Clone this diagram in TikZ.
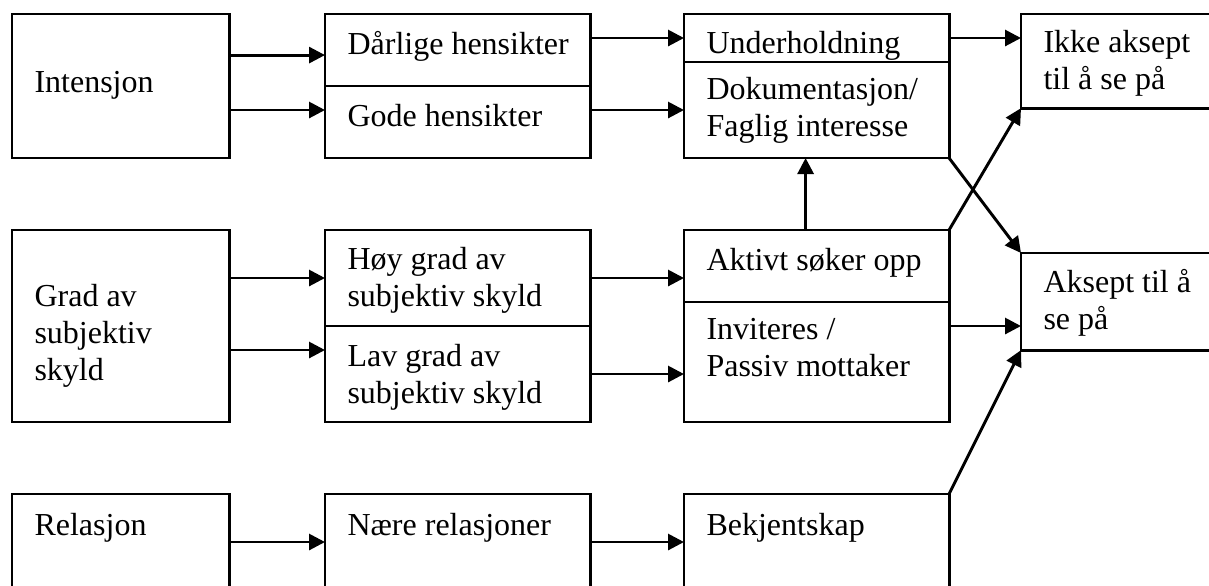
\documentclass[tikz,border=0pt]{standalone}
\usepackage{fontspec}
\setmainfont{Liberation Serif}
\usetikzlibrary{arrows.meta,calc}

\tikzset{
  boks/.style={draw,line width=1.1pt,anchor=north west,inner sep=0pt,outer sep=0pt},
  tekst/.style={anchor=base west,align=left,inner sep=0pt,font=\fontsize{12pt}{13.7pt}\selectfont},
  pil/.style={line width=1.1pt,-{Triangle[length=6pt,width=6pt]}},
  smal/.style={minimum width=81.4pt},
  bred/.style={minimum width=99.4pt},
  ende/.style={minimum width=76.5pt}
}

\begin{document}
\begin{tikzpicture}[x=0.375pt,y=-0.375pt]
  \useasboundingbox (0,0) rectangle (1209,585);
  \clip (0,0) rectangle (1209,585);

  % Intensjon
  \node[boks,smal,minimum height=54pt] (int) at (12,14) {};
  \node[boks,bred,minimum height=27pt] (darl) at (325,14) {};
  \node[boks,bred,minimum height=27pt] (gode) at (darl.south west) {};
  \node[boks,bred,minimum height=18pt] (under) at (684,14) {};
  \node[boks,bred,minimum height=36pt] (dok) at (under.south west) {};
  \node[boks,ende,minimum height=35.3pt] (ikke) at (1021,14) {};

  % (base = siste linje)
  \node[tekst] (int-t) at ([shift={(22,78)}]int.north west) {Intensjon};
  \node[tekst] (darl-t) at ([shift={(22,40)}]darl.north west) {Dårlige hensikter};
  \node[tekst] (gode-t) at ([shift={(22,40)}]gode.north west) {Gode hensikter};
  \node[tekst] (under-t) at ([shift={(22,39)}]under.north west) {Underholdning};
  \node[tekst] (dok-t) at ([shift={(22,74.5)}]dok.north west) {Dokumentasjon/\\Faglig interesse};
  \node[tekst] (ikke-t) at ([shift={(22,75.5)}]ikke.north west) {Ikke aksept\\til å se på};

  % Grad av subjektiv skyld
  \node[boks,smal,minimum height=72pt] (grad) at (12,230) {};
  \node[boks,bred,minimum height=36pt] (hoy) at (325,230) {};
  \node[boks,bred,minimum height=36pt] (lav) at (hoy.south west) {};
  \node[boks,bred,minimum height=27pt] (akt) at (684,230) {};
  \node[boks,bred,minimum height=45pt] (inv) at (akt.south west) {};
  \node[boks,ende,minimum height=36.4pt] (aksept) at (1021,253) {};

  \node[tekst] (grad-t) at ([shift={(22,150)}]grad.north west) {Grad av\\subjektiv\\skyld};
  \node[tekst] (hoy-t) at ([shift={(22,76.5)}]hoy.north west) {Høy grad av\\subjektiv skyld};
  \node[tekst] (lav-t) at ([shift={(22,77.5)}]lav.north west) {Lav grad av\\subjektiv skyld};
  \node[tekst] (akt-t) at ([shift={(22,40)}]akt.north west) {Aktivt søker opp};
  \node[tekst] (inv-t) at ([shift={(22,74.5)}]inv.north west) {Inviteres /\\Passiv mottaker};
  \node[tekst] (aksept-t) at ([shift={(22,76.5)}]aksept.north west) {Aksept til å\\se på};

  % Relasjon
  \node[boks,smal,minimum height=36pt] (rel) at (12,494) {};
  \node[boks,bred,minimum height=36pt] (naer) at (325,494) {};
  \node[boks,bred,minimum height=36pt] (bekj) at (684,494) {};

  \node[tekst] (rel-t) at ([shift={(22,41)}]rel.north west) {Relasjon};
  \node[tekst] (naer-t) at ([shift={(22,41)}]naer.north west) {Nære relasjoner};
  \node[tekst] (bekj-t) at ([shift={(22,41)}]bekj.north west) {Bekjentskap};

  % Piler
  \draw[pil] ([yshift=11.6pt]int.east) -- ([yshift=11.6pt]int.east -| darl.west);
  \draw[pil] ([yshift=-9pt]int.east) -- ([yshift=-9pt]int.east -| gode.west);
  \draw[pil] (darl.east |- under.west) -- (under.west);
  \draw[pil] (gode.east |- dok.west) -- (dok.west);
  \draw[pil] (under.east) -- (under.east -| ikke.west);

  \draw[pil] (grad.east |- hoy.west) -- (hoy.west);
  \draw[pil] ([yshift=-9pt]grad.east) -- ([yshift=-9pt]grad.east -| lav.west);
  \draw[pil] (hoy.east) -- (hoy.east -| akt.west);
  \draw[pil] (lav.east) -- (lav.east -| inv.west);
  \draw[pil] ([yshift=-9pt]inv.north east) -- ([yshift=-9pt]inv.north east -| aksept.west);
  \draw[pil] ([xshift=-4.1pt]akt.north) -- ([xshift=-4.1pt]akt.north |- dok.south);

  \draw[pil] (dok.south east) -- (aksept.north west);
  \draw[pil] (akt.north east) -- (ikke.south west);
  \draw[pil] (bekj.north east) -- (aksept.south west);

  \draw[pil] (rel.east) -- (rel.east -| naer.west);
  \draw[pil] (naer.east) -- (naer.east -| bekj.west);
\end{tikzpicture}
\end{document}
